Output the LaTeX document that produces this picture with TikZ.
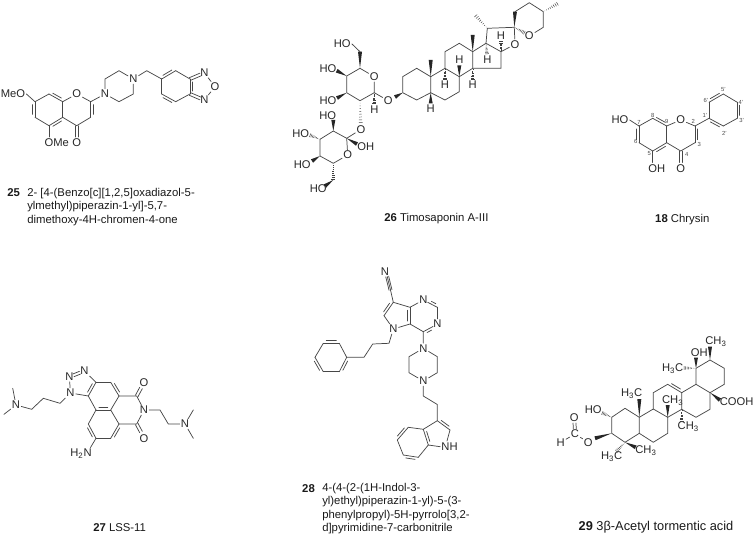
\documentclass[tikz,border=0pt]{standalone}
\usepackage{fontspec}
\setmainfont{Liberation Sans}
\usetikzlibrary{calc}

\tikzset{
  bond/.style={line width=0.55pt,color=black!72,line cap=round},
  atom/.style={inner sep=0.75pt,text=black!85,font=\fontsize{8.4}{10}\selectfont},
  numlab/.style={inner sep=0pt,text=black!70,font=\fontsize{4.4}{5}\selectfont},
  caption/.style={inner sep=0.75pt,text=black!90,align=left,font=\fontsize{8.5}{10}\selectfont},
}
%plain bond with a second line beside it (left of the way from #1 to #2)
\newcommand{\dbl}[3][1.9pt]{\draw[bond] #2 -- #3; \draw[bond,shorten <=2.2pt,shorten >=2.2pt] ($#2!#1!90:#3$) -- ($#3!#1!-90:#2$);}
%two lines either side of the axis
\newcommand{\twin}[2]{\draw[bond] ($#1!1.1pt!90:#2$) -- ($#2!1.1pt!-90:#1$); \draw[bond] ($#1!1.1pt!-90:#2$) -- ($#2!1.1pt!90:#1$);}
%solid wedge, narrow at #1
\newcommand{\wedgeb}[2]{\fill[black!85] #1 -- ($#2!1.5pt!90:#1$) -- ($#2!1.5pt!-90:#1$) -- cycle;}
%hashed wedge, narrow at #1
\newcommand{\hashb}[2]{\foreach \hh in {0.1,0.22,...,1.0} \draw[line width=0.35pt,color=black!75] ($#1!\hh!#2!1.5pt*\hh!90:#2$) -- ($#1!\hh!#2!1.5pt*\hh!-90:#2$);}

\begin{document}
\begin{tikzpicture}[x=0.75pt,y=0.75pt,yscale=-1,xscale=1]
\useasboundingbox (0,0) rectangle (754,535);

%Shape: Compound 25
\coordinate (a1) at (49,94); \coordinate (a2) at (62.7,101.7); \coordinate (a3) at (62.7,117.3);
\coordinate (a4) at (49,125.7); \coordinate (a5) at (35,117.3); \coordinate (a6) at (35,101.7);
\coordinate (a7) at (90.7,101.7); \coordinate (a8) at (90.7,117.3); \coordinate (a9) at (76.7,125.7);
\coordinate (a10) at (49,137); \coordinate (a11) at (76.7,137);
\coordinate (a12) at (105,79); \coordinate (a13) at (119,70.7); \coordinate (a14) at (133.3,94);
\coordinate (a15) at (119,101.7); \coordinate (a16) at (146.7,70.7); \coordinate (a17) at (161.7,79);
\coordinate (a18) at (175.7,70.7); \coordinate (a19) at (190,79); \coordinate (a20) at (190,94);
\coordinate (a21) at (175.7,101.7); \coordinate (a22) at (161.7,94);
\coordinate (a23) at (200.5,74.5); \coordinate (a24) at (200.5,98.5);
% Text Node
\draw (13,94) node [atom] (ameo) {MeO};
\draw (56.7,143) node [atom] (aome) {OMe};
\draw (76.7,143) node [atom] (ao1) {O};
\draw (76.7,94) node [atom] (ao2) {O};
\draw (105,94) node [atom] (an1) {N};
\draw (133.3,79) node [atom] (an2) {N};
\draw (204.3,72.7) node [atom] (an3) {N};
\draw (215,86.7) node [atom] (ao3) {O};
\draw (204.3,100) node [atom] (an4) {N};
%Straight Lines
\draw [bond] (a6) -- (ameo.east);
\draw [bond] (a4) -- (a10);
\dbl{(a6)}{(a5)} \dbl{(a4)}{(a3)} \dbl{(a2)}{(a1)}
\draw [bond] (a1) -- (a6);
\draw [bond] (a5) -- (a4);
\draw [bond] (a2) -- (a3);
\draw [bond] (a3) -- (a9) -- (a8);
\dbl{(a8)}{(a7)}
\draw [bond] (a2) -- (ao2) -- (a7) -- (an1) -- (a12) -- (a13) -- (an2) -- (a14) -- (a15) -- (an1);
\twin{(a9)}{(a11)}
\draw [bond] (an2) -- (a16) -- (a17);
\dbl{(a18)}{(a17)} \dbl{(a22)}{(a21)} \dbl{(a20)}{(a19)}
\draw [bond] (a17) -- (a22);
\draw [bond] (a21) -- (a20);
\draw [bond] (a19) -- (a18);
\twin{(a19)}{(a23)}
\twin{(a20)}{(a24)}
\draw [bond] (an3) -- (ao3) -- (an4);
\draw (13.7,193) node [caption,font=\fontsize{8.5}{10}\selectfont\bfseries] (anum) {25};
\draw (26,187) node [caption,anchor=north west] (acap) {2- [4-(Benzo[c][1,2,5]oxadiazol-5-\\ylmethyl)piperazin-1-yl]-5,7-\\dimethoxy-4H-chromen-4-one};

%Shape: Compound 26, sugars
\coordinate (b1) at (360,68.3); \coordinate (b2) at (374.3,92.7); \coordinate (b3) at (360,100.7);
\coordinate (b4) at (346.7,92.7); \coordinate (b5) at (346.7,76); \coordinate (b6) at (360,51.7);
\coordinate (b8) at (336.7,70.7); \coordinate (b9) at (337,98); \coordinate (b10) at (374.3,104);
\coordinate (b11) at (395,97); \coordinate (b12) at (360.7,124); \coordinate (b13) at (346.7,138.3);
\coordinate (b14) at (333.3,131); \coordinate (b15) at (320,139.3); \coordinate (b16) at (320,156);
\coordinate (b17) at (333.3,163.3); \coordinate (b18) at (333.3,120); \coordinate (b19) at (309.5,135);
\coordinate (b21) at (357,144); \coordinate (b22) at (312,161); \coordinate (b23) at (333.3,180);
\coordinate (b24) at (325,186);
%Shape: Compound 26, steroid
\coordinate (b20) at (402.7,92.7); \coordinate (b25) at (402.7,76.7); \coordinate (b26) at (416.7,68.3);
\coordinate (b27) at (430.7,76.7); \coordinate (b28) at (430.7,92.7); \coordinate (b29) at (416.7,100);
\coordinate (b30) at (445,68.3); \coordinate (b31) at (459.3,76.7); \coordinate (b32) at (459.3,91.7);
\coordinate (b33) at (445,100); \coordinate (b34) at (445,51.7); \coordinate (b35) at (459.3,43.3);
\coordinate (b36) at (472.7,51.7); \coordinate (b37) at (472.7,68.3); \coordinate (b38) at (486,43.3);
\coordinate (b39) at (501,51.7); \coordinate (b40) at (501,68.3); \coordinate (b41) at (487.3,28.3);
\coordinate (b42) at (514.3,27.3); \coordinate (b43) at (515,11.7); \coordinate (b44) at (529.3,2.7);
\coordinate (b45) at (543.3,11.7); \coordinate (b46) at (543.3,27.3); \coordinate (b47) at (558.3,3.3);
\coordinate (b48) at (475,15); \coordinate (b49) at (472.7,35); \coordinate (b50) at (430.7,60);
\coordinate (b51) at (459.3,65.5); \coordinate (b52) at (445,80); \coordinate (b53) at (472.7,80);
\coordinate (b54) at (487,54.5); \coordinate (b55) at (501,41); \coordinate (b56) at (430.7,103.5);
\coordinate (b57) at (525,33);
% Text Node
\draw (342.3,44) node [atom] (bho1) {HO};
\draw (328,69) node [atom] (bho2) {HO};
\draw (328,101) node [atom] (bho3) {HO};
\draw (374.3,76.7) node [atom] (bo1) {O};
\draw (388.3,100.7) node [atom] (bo2) {O};
\draw (374.3,109.3) node [atom] (bh1) {H};
\draw (361,129.3) node [atom] (bo3) {O};
\draw (327.7,115.7) node [atom] (bho4) {HO};
\draw (300.7,133.3) node [atom] (bho5) {HO};
\draw (365.7,146.7) node [atom] (boh1) {OH};
\draw (347.7,155) node [atom] (bo4) {O};
\draw (302.3,165) node [atom] (bho6) {HO};
\draw (318.3,189) node [atom] (bho7) {HO};
\draw (515,44.3) node [atom] (bo5) {O};
\draw (529.3,36) node [atom] (bo6) {O};
\draw (459.3,60) node [atom] (bh2) {H};
\draw (445,85) node [atom] (bh3) {H};
\draw (472.7,85) node [atom] (bh4) {H};
\draw (487.3,60) node [atom] (bh5) {H};
\draw (501,36) node [atom] (bh6) {H};
\draw (430.7,109) node [atom] (bh7) {H};
%Straight Lines
\draw [bond] (b1) -- (bo1) -- (b2) -- (b3) -- (b4) -- (b5) -- (b1);
\draw [bond] (b6) -- (bho1.east);
\wedgeb{(b1)}{(b6)} \wedgeb{(b5)}{(b8)} \wedgeb{(b4)}{(b9)}
\hashb{(b2)}{(b10)} \hashb{(b3)}{(b12)}
\draw [bond] (b2) -- (bo2);
\wedgeb{(b20)}{(b11)}
\draw [bond] (bo3) -- (b13) -- (b14) -- (b15) -- (b16) -- (b17) -- (bo4) -- (b13);
\wedgeb{(b14)}{(b18)} \hashb{(b15)}{(b19)} \wedgeb{(b13)}{(b21)} \wedgeb{(b16)}{(b22)}
\hashb{(b17)}{(b23)} \wedgeb{(b23)}{(b24)}
\draw [bond] (b20) -- (b25) -- (b26) -- (b27) -- (b28) -- (b29) -- (b20);
\draw [bond] (b27) -- (b30) -- (b31) -- (b32) -- (b33) -- (b28);
\draw [bond] (b30) -- (b34) -- (b35) -- (b36) -- (b37) -- (b31);
\draw [bond] (b36) -- (b38) -- (b39) -- (b40) -- (b37);
\draw [bond] (b38) -- (b41) -- (b42) -- (bo5) -- (b39);
\draw [bond] (b43) -- (b44) -- (b45) -- (b46) -- (bo6);
\wedgeb{(b42)}{(b43)} \hashb{(b42)}{(b57)} \hashb{(b45)}{(b47)} \hashb{(b41)}{(b48)}
\wedgeb{(b36)}{(b49)} \wedgeb{(b27)}{(b50)} \wedgeb{(b31)}{(b51)} \wedgeb{(b28)}{(b56)}
\hashb{(b30)}{(b52)} \hashb{(b37)}{(b53)} \hashb{(b38)}{(b54)} \hashb{(b39)}{(b55)}
\draw (383,219) node [caption,anchor=west] (bcap) {\textbf{26} Timosaponin A-III};

%Shape: Compound 18
\coordinate (c1) at (652.7,118.3); \coordinate (c2) at (666.7,126); \coordinate (c3) at (666.7,142.7);
\coordinate (c4) at (652.7,151); \coordinate (c5) at (639,142.7); \coordinate (c6) at (639,126);
\coordinate (c7) at (695,126); \coordinate (c8) at (695,142.7); \coordinate (c9) at (680.7,151);
\coordinate (c10) at (680.7,162.5); \coordinate (c11) at (652.7,162.5);
\coordinate (c12) at (709,118.3); \coordinate (c13) at (709,102.3); \coordinate (c14) at (723.3,94);
\coordinate (c15) at (737.3,102.3); \coordinate (c16) at (737.3,118.3); \coordinate (c17) at (723.3,126);
% Text Node
\draw (620,120) node [atom] (cho) {HO};
\draw (656.7,168.3) node [atom] (coh) {OH};
\draw (680.7,168.3) node [atom] (co1) {O};
\draw (680.7,120) node [atom] (co2) {O};
\draw (652.7,115) node [numlab] (cl8) {8};
\draw (666.7,121.7) node [numlab] (cl9) {9};
\draw (639,122.7) node [numlab] (cl7) {7};
\draw (635.7,141.7) node [numlab] (cl6) {6};
\draw (649.3,154) node [numlab] (cl5) {5};
\draw (686.7,154) node [numlab] (cl4) {4};
\draw (699.3,144) node [numlab] (cl3) {3};
\draw (693.3,121) node [numlab] (cl2) {2};
\draw (705,115) node [numlab] (cl1p) {1'};
\draw (706,100) node [numlab] (cl6p) {6'};
\draw (723.3,90) node [numlab] (cl5p) {5'};
\draw (741,102.3) node [numlab] (cl4p) {4'};
\draw (741.7,120) node [numlab] (cl3p) {3'};
\draw (724.3,133.3) node [numlab] (cl2p) {2'};
%Straight Lines
\draw [bond] (c6) -- (cho.east);
\draw [bond] (c4) -- (c11);
\dbl{(c6)}{(c5)} \dbl{(c4)}{(c3)} \dbl{(c2)}{(c1)}
\draw [bond] (c1) -- (c6);
\draw [bond] (c5) -- (c4);
\draw [bond] (c2) -- (c3);
\draw [bond] (c3) -- (c9) -- (c8);
\dbl{(c8)}{(c7)}
\draw [bond] (c2) -- (co2) -- (c7) -- (c12);
\twin{(c9)}{(c10)}
\dbl{(c14)}{(c13)} \dbl{(c12)}{(c17)} \dbl{(c16)}{(c15)}
\draw [bond] (c13) -- (c12);
\draw [bond] (c17) -- (c16);
\draw [bond] (c15) -- (c14);
\draw (682.3,220) node [caption] (ccap) {\textbf{18} Chrysin};

%Shape: Compound 27
\coordinate (d1) at (96,382.3); \coordinate (d2) at (110.7,382.3); \coordinate (d3) at (119,396);
\coordinate (d4) at (110.7,410); \coordinate (d5) at (96,410); \coordinate (d6) at (88.3,396);
\coordinate (d7) at (119,424); \coordinate (d8) at (110.7,438.3); \coordinate (d9) at (96,438.3);
\coordinate (d10) at (88.3,424); \coordinate (d11) at (136.7,396); \coordinate (d12) at (136.7,424);
\coordinate (d13) at (73.5,375.3); \coordinate (d14) at (80,372.7); \coordinate (d15) at (141,388);
\coordinate (d16) at (141,432); \coordinate (d17) at (160,410); \coordinate (d18) at (168.3,424);
\coordinate (d20) at (193.3,410); \coordinate (d21) at (193.3,438.3); \coordinate (d22) at (90.5,447.5);
\coordinate (d23) at (60,403.3); \coordinate (d24) at (43.3,398.3); \coordinate (d25) at (31.7,409.3);
\coordinate (d26) at (12.7,388.3); \coordinate (d27) at (4,414.3);
% Text Node
\draw (70.5,393) node [atom] (dn1) {N};
\draw (69.3,376.7) node [atom] (dn2) {N};
\draw (84.3,371) node [atom] (dn3) {N};
\draw (144,410) node [atom] (dn4) {N};
\draw (185,424) node [atom] (dn5) {N};
\draw (16,405) node [atom] (dn6) {N};
\draw (144,382.3) node [atom] (do1) {O};
\draw (144,438.3) node [atom] (do2) {O};
\draw (81,453.3) node [atom] (dnh) {H\textsubscript{2}N};
%Straight Lines
\dbl{(d3)}{(d2)} \dbl{(d4)}{(d5)} \dbl{(d1)}{(d6)} \dbl{(d10)}{(d9)} \dbl{(d8)}{(d7)}
\draw [bond] (d2) -- (d1);
\draw [bond] (d6) -- (d5);
\draw [bond] (d3) -- (d4) -- (d7);
\draw [bond] (d5) -- (d10);
\draw [bond] (d9) -- (d8);
\draw [bond] (d3) -- (d11) -- (dn4) -- (d12) -- (d7);
\twin{(d11)}{(d15)}
\twin{(d12)}{(d16)}
\draw [bond] (d1) -- (dn3);
\twin{(d14)}{(d13)}
\draw [bond] (dn2) -- (dn1) -- (d6);
\draw [bond] (dn4) -- (d17) -- (d18) -- (dn5) -- (d20);
\draw [bond] (dn5) -- (d21);
\draw [bond] (d9) -- (d22);
\draw [bond] (dn1) -- (d23) -- (d24) -- (d25) -- (dn6) -- (d26);
\draw [bond] (dn6) -- (d27);
\draw (92,527.7) node [caption,anchor=west] (dcap) {\textbf{27} LSS-11};

%Shape: Compound 28
\coordinate (e1) at (393.3,302.3); \coordinate (e2) at (390.5,290); \coordinate (e3) at (387.2,276.5);
\coordinate (e4) at (384,315.7); \coordinate (e5) at (410,324); \coordinate (e6) at (410,307.3);
\coordinate (e7) at (437.3,307.3); \coordinate (e8) at (423.3,331.7); \coordinate (e9) at (427.7,302.3);
\coordinate (e11) at (433,326.5);
\coordinate (e12) at (437.3,356.7); \coordinate (e13) at (437.3,372.7); \coordinate (e14) at (409,372.7);
\coordinate (e15) at (409,356.7); \coordinate (e16) at (423.3,396); \coordinate (e17) at (437.3,404.5);
\coordinate (e18) at (437.3,420.7); \coordinate (e19) at (450,430); \coordinate (e20) at (428.3,445);
\coordinate (e21) at (423.3,429.3); \coordinate (e22) at (408.3,427.3); \coordinate (e23) at (397.3,440);
\coordinate (e24) at (403.3,455); \coordinate (e25) at (418.3,457.3); \coordinate (e26) at (447,441);
\coordinate (e27) at (346.7,357.3); \coordinate (e28) at (339.3,343.3); \coordinate (e29) at (323.3,343.3);
\coordinate (e30) at (315,357.3); \coordinate (e31) at (323.3,371.7); \coordinate (e32) at (339.3,371.7);
\coordinate (e33) at (389,343.3); \coordinate (e34) at (372.7,344); \coordinate (e35) at (364,357.3);
% Text Node
\draw (385,271.7) node [atom] (en1) {N};
\draw (423.3,300) node [atom] (en2) {N};
\draw (437.3,324) node [atom] (en3) {N};
\draw (393.3,329) node [atom] (en4) {N};
\draw (423.3,348.3) node [atom] (en5) {N};
\draw (423.3,381) node [atom] (en6) {N};
\draw (449.5,446.7) node [atom] (enh) {NH};
%Straight Lines
\draw [bond] (e1) -- (e2);
\draw [bond] (e2) -- (e3);
\twin{(e2)}{(e3)}
\dbl{(e1)}{(e4)} \dbl{(e6)}{(e5)} \dbl{(e8)}{(e11)} \dbl{(e7)}{(e9)}
\draw [bond] (e4) -- (en4) -- (e5) -- (e8);
\draw [bond] (e1) -- (e6) -- (en2);
\draw [bond] (e7) -- (en3);
\draw [bond] (e8) -- (en5) -- (e12) -- (e13) -- (en6) -- (e14) -- (e15) -- (en5);
\draw [bond] (en6) -- (e16) -- (e17) -- (e18) -- (e21);
\dbl{(e19)}{(e18)}
\draw [bond] (e19) -- (e26);
\draw [bond] (enh.west) -- (e20);
\dbl{(e22)}{(e23)} \dbl{(e24)}{(e25)} \dbl{(e20)}{(e21)}
\draw [bond] (e21) -- (e22);
\draw [bond] (e23) -- (e24);
\draw [bond] (e25) -- (e20);
\draw [bond] (en4) -- (e33) -- (e34) -- (e35) -- (e27);
\dbl{(e28)}{(e29)} \dbl{(e30)}{(e31)} \dbl{(e32)}{(e27)}
\draw [bond] (e29) -- (e30);
\draw [bond] (e31) -- (e32);
\draw [bond] (e27) -- (e28);
\draw (308.5,488.3) node [caption,font=\fontsize{8.5}{10}\selectfont\bfseries] (enum) {28};
\draw (321,482) node [caption,anchor=north west] (ecap) {4-(4-(2-(1H-Indol-3-\\yl)ethyl)piperazin-1-yl)-5-(3-\\phenylpropyl)-5H-pyrrolo[3,2-\\d]pyrimidine-7-carbonitrile};

%Shape: Compound 29
\coordinate (f1) at (611.7,417.3); \coordinate (f2) at (625,408.3); \coordinate (f3) at (639.3,417.3);
\coordinate (f4) at (639.3,433.3); \coordinate (f5) at (625,442.3); \coordinate (f6) at (611.7,433.3);
\coordinate (f7) at (653.3,409); \coordinate (f8) at (667.7,417.3); \coordinate (f9) at (667.7,433.3);
\coordinate (f10) at (653.3,442.3); \coordinate (f11) at (653.3,392.7); \coordinate (f12) at (667.7,384.3);
\coordinate (f13) at (681.7,392.7); \coordinate (f14) at (681.7,409.3); \coordinate (f15) at (696,384.3);
\coordinate (f16) at (710,392.7); \coordinate (f17) at (710,409.3); \coordinate (f18) at (696,417.3);
\coordinate (f19) at (696,368.3); \coordinate (f20) at (710,360); \coordinate (f21) at (724.3,368.3);
\coordinate (f22) at (724.3,384.3); \coordinate (f23) at (696,357.5); \coordinate (f24) at (710,346.7);
\coordinate (f25) at (683.3,368); \coordinate (f26) at (720,400); \coordinate (f27) at (667.7,405);
\coordinate (f28) at (681.7,421.7); \coordinate (f29) at (639.3,399); \coordinate (f30) at (635.7,447.3);
\coordinate (f31) at (616,451.7); \coordinate (f32) at (601.7,412.7); \coordinate (f33) at (595,438.3);
\coordinate (f34) at (574.8,429); \coordinate (f35) at (574.5,423);
% Text Node
\draw (699.3,352.3) node [atom] (foh) {OH};
\draw (716,341.7) node [atom] (fme1) {CH\textsubscript{3}};
\draw (672.7,369) node [atom] (fme2) {H\textsubscript{3}C};
\draw (736.7,401.7) node [atom] (fcooh) {COOH};
\draw (672.7,401) node [atom] (fme3) {CH\textsubscript{3}};
\draw (688.3,426.7) node [atom] (fme4) {CH\textsubscript{3}};
\draw (631.7,393.3) node [atom] (fme5) {H\textsubscript{3}C};
\draw (646,451) node [atom] (fme6) {CH\textsubscript{3}};
\draw (611.7,456.7) node [atom] (fme7) {H\textsubscript{3}C};
\draw (593.3,409.3) node [atom] (fho) {HO};
\draw (588.3,442.3) node [atom] (fo1) {O};
\draw (575,434) node [atom] (fc) {C};
\draw (574.3,417.3) node [atom] (fo2) {O};
\draw (560.7,442.3) node [atom] (fh) {H};
%Straight Lines
\draw [bond] (f1) -- (f2) -- (f3) -- (f4) -- (f5) -- (f6) -- (f1);
\draw [bond] (f3) -- (f7) -- (f8) -- (f9) -- (f10) -- (f4);
\draw [bond] (f7) -- (f11) -- (f12);
\dbl{(f13)}{(f12)}
\draw [bond] (f13) -- (f14) -- (f8);
\draw [bond] (f13) -- (f15) -- (f16) -- (f17) -- (f18) -- (f14);
\draw [bond] (f15) -- (f19) -- (f20) -- (f21) -- (f22) -- (f16);
\wedgeb{(f19)}{(f23)} \wedgeb{(f20)}{(f24)} \wedgeb{(f16)}{(f26)} \wedgeb{(f8)}{(f27)}
\wedgeb{(f3)}{(f29)} \wedgeb{(f5)}{(f30)} \wedgeb{(f6)}{(f33)}
\hashb{(f19)}{(f25)} \hashb{(f14)}{(f28)} \hashb{(f5)}{(f31)} \hashb{(f1)}{(f32)}
\draw [bond] (fo1) -- (fc) -- (fh);
\twin{(f34)}{(f35)}
\draw (656,527) node [caption,font=\fontsize{9.6}{11}\selectfont] (fcap) {\textbf{29} 3β-Acetyl tormentic acid};

\end{tikzpicture}
\end{document}
